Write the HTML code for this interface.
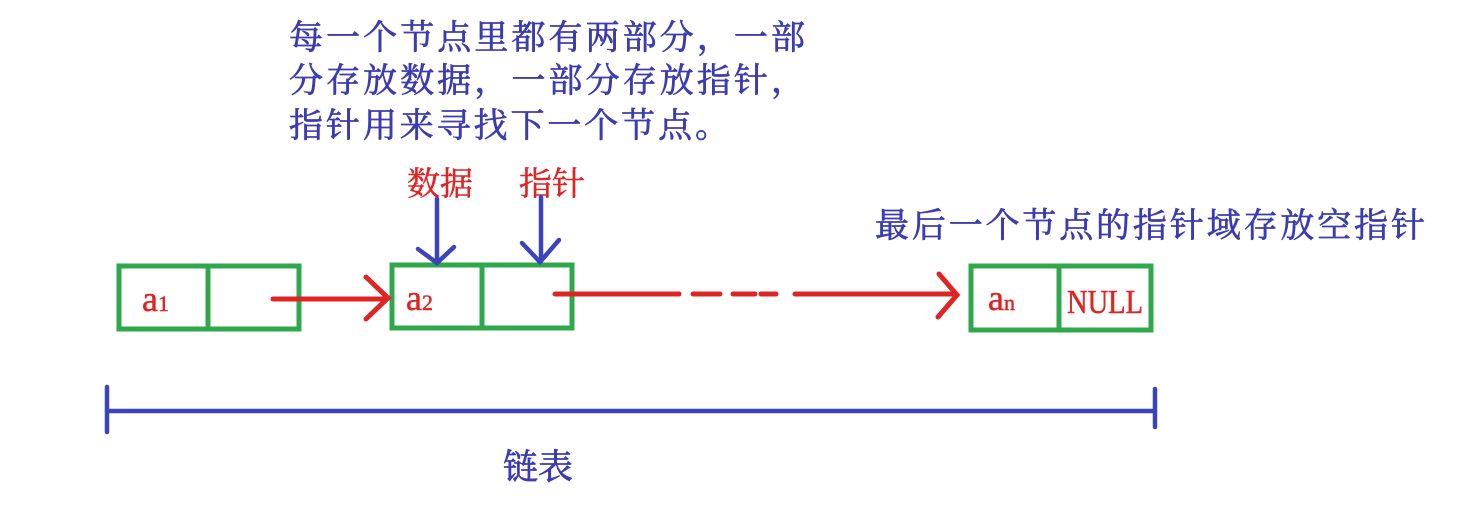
<!DOCTYPE html>
<html><head><meta charset="utf-8"><style>
html,body{margin:0;padding:0;background:#fff;}
svg{display:block}
.b{font-family:"Liberation Serif","Noto Serif CJK SC",serif;fill:#3c3cb0;stroke:#3c3cb0;stroke-width:0.7;}
.r{font-family:"Liberation Serif","Noto Serif CJK SC",serif;fill:#e02424;stroke:#e02424;stroke-width:0.5;}
</style></head><body>
<svg width="1459" height="507" viewBox="0 0 1459 507" xmlns="http://www.w3.org/2000/svg">
<g class="b" font-size="34">
<text x="289" y="49" textLength="516">每一个节点里都有两部分，一部</text>
<text x="289" y="92" textLength="516">分存放数据，一部分存放指针，</text>
<text x="289" y="137" textLength="440">指针用来寻找下一个节点。</text>
<text x="875" y="237" textLength="550">最后一个节点的指针域存放空指针</text>
<text x="503" y="479" font-size="35">链表</text>
</g>
<g class="r" font-size="33">
<text x="407" y="195">数据</text>
<text x="519" y="195">指针</text>
</g>
<g fill="none" stroke="#2ea84a" stroke-width="5">
<rect x="119" y="266" width="180" height="63"/><line x1="208" y1="266" x2="208" y2="329"/>
<rect x="392" y="265" width="180" height="63"/><line x1="482" y1="265" x2="482" y2="328"/>
<rect x="971" y="266" width="180" height="64"/><line x1="1059" y1="266" x2="1059" y2="330"/>
</g>
<g class="r" font-size="36" stroke-width="0.3">
<text x="142" y="311">a<tspan font-size="22">1</tspan></text>
<text x="406" y="310">a<tspan font-size="22">2</tspan></text>
<text x="988" y="310">a<tspan font-size="22">n</tspan></text>
<text x="1067" y="313" font-size="34" textLength="76" lengthAdjust="spacingAndGlyphs">NULL</text>
</g>
<g stroke="#e02424" stroke-width="5" stroke-linecap="round" fill="none">
<line x1="273" y1="299" x2="386" y2="299"/>
<polyline points="366,277 388,298 366,319"/>
<line x1="555" y1="294" x2="679" y2="294"/>
<line x1="693" y1="294" x2="720" y2="294"/>
<line x1="733" y1="294" x2="755" y2="294"/>
<line x1="761" y1="294" x2="776" y2="294"/>
<line x1="795" y1="294" x2="955" y2="294"/>
<polyline points="939,274 957,295 938,317"/>
</g>
<g stroke="#3c44bc" stroke-width="4.5" stroke-linecap="round" fill="none">
<line x1="437" y1="199" x2="437" y2="262"/>
<polyline points="418,249 437,263 454,247"/>
<line x1="541" y1="197" x2="541" y2="261"/>
<polyline points="522,243 540,262 559,240"/>
<line x1="107" y1="411" x2="1155" y2="411"/>
<line x1="107" y1="387" x2="107" y2="432"/>
<line x1="1155" y1="389" x2="1155" y2="427"/>
</g>
</svg>
</body></html>
